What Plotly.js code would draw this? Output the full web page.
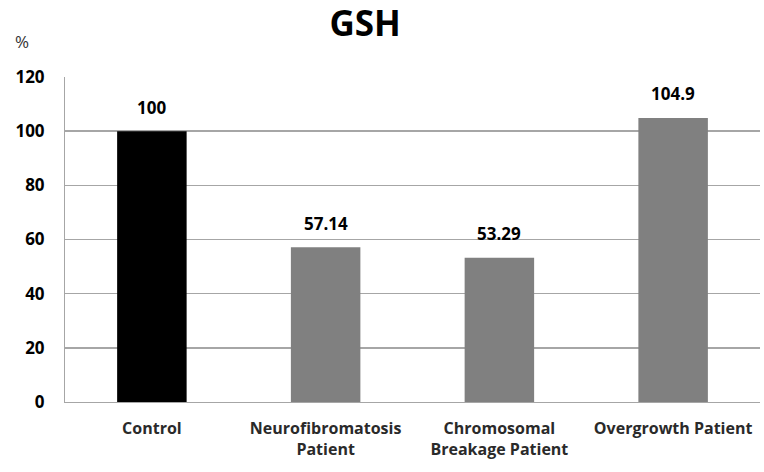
<!DOCTYPE html>
<html><head><meta charset="utf-8">
<script src="https://cdn.plot.ly/plotly-3.0.1.min.js"></script>
<style>html,body{margin:0;padding:0;background:#fff}#chart{width:764px;height:472px}</style>
</head><body><div id="chart"></div>
<script>
const categories = ["Control", "Neurofibromatosis<br>Patient", "Chromosomal<br>Breakage Patient", "Overgrowth Patient"];
const values = [100, 57.14, 53.29, 104.9];
const valueLabels = ["100", "57.14", "53.29", "104.9"];
const barColors = ["#000000", "#808080", "#808080", "#808080"];
const yTicks = [0, 20, 40, 60, 80, 100, 120];

const font = "Open Sans, Lato, sans-serif";
const data = [{
  type: "bar", x: categories, y: values,
  marker: {color: barColors},
  hoverinfo: "skip"
}];
const annotations = categories.map((c, i) => ({
  x: c, y: values[i], xref: "x", yref: "y", text: valueLabels[i],
  showarrow: false, yanchor: "middle", yshift: 24,
  font: {family: font, size: 17, color: "#000", weight: "bold"}
}));
annotations.push({
  xref: "paper", yref: "paper", x: -0.062, y: 1.11, xanchor: "center", yanchor: "middle",
  text: "%", showarrow: false, font: {family: font, size: 17, color: "#333"}
});
const layout = {
  width: 764, height: 472,
  margin: {l: 65, r: 4, t: 77, b: 70},
  paper_bgcolor: "#fff", plot_bgcolor: "#fff",
  showlegend: false,
  bargap: 0.6,
  title: {text: "GSH", x: 0.478, xref: "container", y: 0.95, yref: "container", yanchor: "middle",
          font: {family: font, size: 35, color: "#000", weight: "bold"}},
  xaxis: {
    type: "category", showgrid: false, zeroline: false,
    showline: true, linecolor: "#a6a6a6", linewidth: 1,
    ticks: "", ticklabelstandoff: 12,
    tickfont: {family: font, size: 16, color: "#2a2a2a", weight: "bold"}
  },
  yaxis: {
    range: [0, 120], tickvals: yTicks, ticktext: yTicks.map(String),
    showgrid: true, gridcolor: "#a6a6a6", gridwidth: 1.5,
    zeroline: false, showline: true, linecolor: "#a6a6a6", linewidth: 1,
    ticks: "", ticklabelstandoff: 16,
    tickfont: {family: font, size: 17, color: "#000", weight: "bold"}
  },
  annotations: annotations
};
Plotly.newPlot("chart", data, layout, {staticPlot: true});
</script></body></html>
